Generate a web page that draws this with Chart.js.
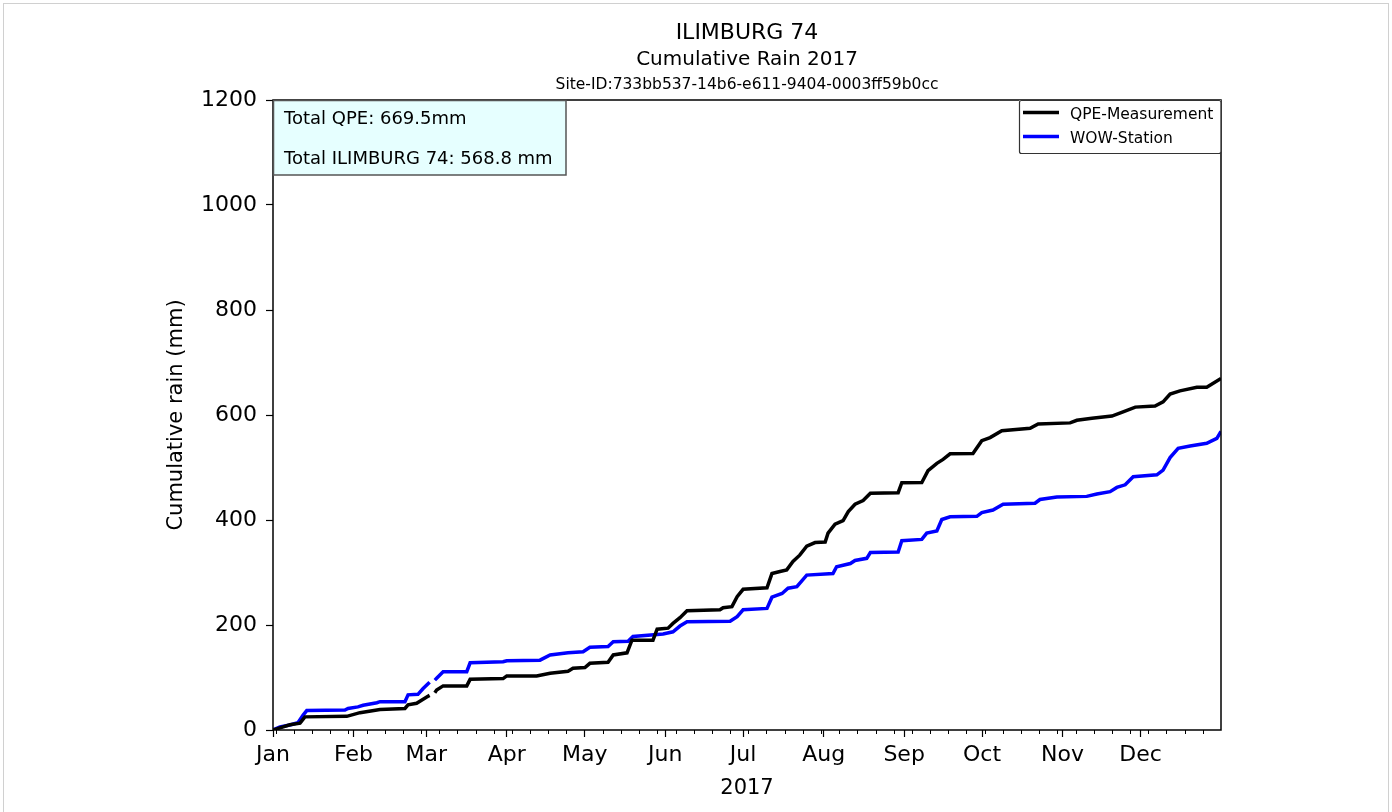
<!DOCTYPE html>
<html>
<head>
<meta charset="utf-8">
<script src="https://cdn.jsdelivr.net/npm/chart.js@4/dist/chart.umd.min.js"></script>
<style>
  html, body { margin: 0; padding: 0; background: #fff; }
  #grafico { display: block; }
</style>
</head>
<body>
<canvas id="grafico" width="1392" height="812"></canvas>
<script>
// Dias desde 1 de janeiro de 2017 (eixo x) e chuva acumulada (mm)
const qpeDays = [0, 6.5, 10.4, 12.3, 28.4, 33.5, 41.2, 50.8, 52, 55.3, 59.2, 60.3, 61, 62.3, 63, 65.5, 74.6, 75.9,
  88.6, 90, 101.5, 106.7, 113.6, 115.5, 120.1, 122, 129, 131, 136.3, 138.2, 146.3, 147.9, 152.1, 154, 156.7, 159.4,
  172.1, 173.3, 176.7, 178.7, 181, 190.2, 192.1, 195.2, 197.8, 200.2, 202.8, 205.5, 208.7, 212.6, 213.7, 216.4,
  219.5, 221.5, 224.1, 227.2, 230, 240.7, 242.1, 249.8, 252.2, 255.6, 258, 260.7, 269.5, 272.9, 276.1, 280.6,
  291.5, 294.6, 306.9, 309.5, 315.3, 323, 327.3, 332, 339.6, 342.7, 345.4, 349.2, 355.7, 359.5, 365];
const qpeRain = [0, 10, 13, 25, 26, 33, 39, 41, 48, 51, 63, 66, null, 71, 76, 84, 84, 96.5,
  98, 103, 103, 108, 112, 117.5, 119, 127, 129, 143, 147, 171, 171, 192, 194, 203, 214, 227,
  229, 233, 235, 254, 268, 271, 298, 302, 305, 321, 333, 350, 357, 358, 375, 392,
  399, 416, 430, 437, 451, 452, 471, 471.5, 494, 508, 515.5, 526, 526.5, 551, 557, 570,
  574.6, 583, 585, 590, 593.6, 598, 606, 615, 617, 625, 640, 646, 652.7, 653, 669.5];

const wowDays = [0, 2.7, 6.5, 9.6, 11.6, 13, 27.7, 28.9, 32.7, 34.7, 40, 41.2, 50.8, 52, 55.8, 57.8, 60.3, 61, 62.3, 63,
  65.5, 74.6, 75.9, 88.6, 90, 102.8, 106.7, 113.6, 119.4, 122, 129, 131, 136.7, 138.6, 150.2, 154, 156.7, 159.4,
  176, 178.7, 181, 190.2, 192.1, 196, 198.3, 201.7, 205.5, 215.6, 217, 222.3, 224.1, 228.6, 230, 240.7, 242.1,
  249.8, 251.7, 255.6, 257.5, 260.7, 271, 272.9, 277.2, 281.1, 293.4, 295.3, 301.8, 313.3, 317.2, 322.3, 324.9,
  328.1, 331.2, 340.3, 342.7, 345.4, 348.5, 353.1, 359.5, 363.4, 365];
const wowRain = [0, 6, 9.5, 14, 28.5, 37, 38, 41, 44, 47, 52, 54, 54, 67, 68, 79, 91, null, 95, 98.5,
  111, 111, 128, 130, 132, 133, 143, 147, 149, 157.5, 159, 168, 169, 178, 183, 187, 198, 206,
  207, 216, 229, 231.6, 253, 260, 270, 273, 295, 298, 311, 317, 323, 327, 338, 339, 360.6,
  363, 375, 379, 401, 406, 407, 414, 419, 430, 432, 439, 444, 445, 449.5, 454, 462,
  467, 482.5, 486, 495, 519, 536.5, 541, 546, 555.6, 568.8];

const monthStarts = [0, 31, 59, 90, 120, 151, 181, 212, 243, 273, 304, 334];
const monthLabels = ["Jan", "Feb", "Mar", "Apr", "May", "Jun", "Jul", "Aug", "Sep", "Oct", "Nov", "Dec"];
const yTicks = [0, 200, 400, 600, 800, 1000, 1200];

const totalQPE = 669.5;
const totalStation = 568.8;

const FONTE = "'DejaVu Sans', sans-serif";

function montarPontos(dias, valores) {
  return dias.map((d, i) => ({ x: d, y: valores[i] }));
}

// Segundas-feiras de 2017 (ticks menores)
const segundas = [];
for (let d = 1; d < 365; d += 7) segundas.push(d);

const enfeites = {
  id: 'enfeites',
  afterDraw(chart) {
    const ctx = chart.ctx;
    const a = chart.chartArea;
    const x = chart.scales.x;
    ctx.save();

    // borda clara da figura
    ctx.strokeStyle = '#d0d0d0';
    ctx.lineWidth = 1;
    ctx.strokeRect(3.5, 3.5, 1385, 812);

    // ticks menores no eixo x
    ctx.strokeStyle = '#000';
    ctx.lineWidth = 1;
    segundas.forEach(d => {
      if (monthStarts.includes(d)) return;
      const px = Math.round(x.getPixelForValue(d)) + 0.5;
      ctx.beginPath();
      ctx.moveTo(px, a.bottom);
      ctx.lineTo(px, a.bottom + 4);
      ctx.stroke();
    });

    // moldura
    ctx.lineWidth = 1.5;
    ctx.strokeRect(a.left, a.top, a.right - a.left, a.bottom - a.top);

    // títulos
    ctx.fillStyle = '#000';
    ctx.textAlign = 'center';
    ctx.textBaseline = 'alphabetic';
    const cx = (a.left + a.right) / 2;
    ctx.font = "22px " + FONTE;
    ctx.fillText("ILIMBURG 74", cx, 38.5);
    ctx.font = "20px " + FONTE;
    ctx.fillText("Cumulative Rain 2017", cx, 65);
    ctx.font = "15.5px " + FONTE;
    ctx.fillText("Site-ID:733bb537-14b6-e611-9404-0003ff59b0cc", cx, 88.5);

    // títulos dos eixos
    ctx.font = "21px " + FONTE;
    ctx.fillText("2017", cx, 794);
    ctx.save();
    ctx.translate(177, (a.top + a.bottom) / 2);
    ctx.rotate(-Math.PI / 2);
    ctx.textBaseline = 'middle';
    ctx.fillText("Cumulative rain (mm)", 0, 0);
    ctx.restore();

    // caixa de totais
    ctx.fillStyle = 'rgba(224,255,255,0.8)';
    ctx.fillRect(a.left, a.top, 293, 75);
    ctx.strokeStyle = '#555';
    ctx.lineWidth = 1.5;
    ctx.strokeRect(a.left + 0.5, a.top + 0.5, 292.5, 74.5);
    ctx.fillStyle = '#000';
    ctx.textAlign = 'left';
    ctx.font = "18px " + FONTE;
    ctx.fillText("Total QPE: " + totalQPE.toFixed(1) + "mm", 284, 123.5);
    ctx.fillText("Total ILIMBURG 74: " + totalStation.toFixed(1) + " mm", 284, 163.5);

    // legenda
    const lx = 1019.5, ly = a.top, lw = a.right - lx, lh = 53;
    ctx.fillStyle = 'rgba(255,255,255,0.85)';
    ctx.fillRect(lx, ly, lw, lh);
    ctx.strokeStyle = '#333';
    ctx.lineWidth = 1.2;
    ctx.beginPath();
    ctx.roundRect(lx, ly + 0.5, lw, lh, 2);
    ctx.stroke();
    ctx.font = "15.5px " + FONTE;
    chart.data.datasets.forEach((ds, i) => {
      const yy = 112.5 + i * 24;
      ctx.strokeStyle = ds.borderColor;
      ctx.lineWidth = 3.5;
      ctx.beginPath();
      ctx.moveTo(1023, yy);
      ctx.lineTo(1059, yy);
      ctx.stroke();
      ctx.fillStyle = '#000';
      ctx.fillText(ds.label, 1070, yy + 6);
    });

    ctx.restore();
  }
};

new Chart(document.getElementById("grafico").getContext("2d"), {
  type: "line",
  data: {
    datasets: [{
      label: "QPE-Measurement",
      data: montarPontos(qpeDays, qpeRain),
      borderColor: "#000000",
      borderWidth: 3.5,
      pointRadius: 0,
      tension: 0,
      spanGaps: false,
      fill: false
    }, {
      label: "WOW-Station",
      data: montarPontos(wowDays, wowRain),
      borderColor: "#0000ff",
      borderWidth: 3.5,
      pointRadius: 0,
      tension: 0,
      spanGaps: false,
      fill: false
    }]
  },
  options: {
    responsive: false,
    devicePixelRatio: 1,
    animation: false,
    layout: { padding: { left: 0, top: 100, right: 171, bottom: 0 } },
    plugins: {
      legend: { display: false },
      title: { display: false },
      tooltip: { enabled: false }
    },
    scales: {
      x: {
        type: "linear",
        min: 0,
        max: 365,
        afterFit: s => { s.height = 82; },
        afterBuildTicks: s => { s.ticks = monthStarts.map(v => ({ value: v })); },
        border: { display: false },
        grid: { drawOnChartArea: false, drawTicks: true, tickLength: 7, tickColor: "#000", tickWidth: 1.2 },
        ticks: {
          autoSkip: false,
          maxRotation: 0,
          padding: 5,
          color: "#000",
          font: { family: FONTE, size: 22 },
          callback: (v, i) => monthLabels[i]
        }
      },
      y: {
        min: 0,
        max: 1200,
        afterFit: s => { s.width = 273; },
        afterBuildTicks: s => { s.ticks = yTicks.map(v => ({ value: v })); },
        border: { display: false },
        grid: { drawOnChartArea: false, drawTicks: true, tickLength: 7, tickColor: "#000", tickWidth: 1.2 },
        ticks: {
          padding: 9,
          color: "#000",
          font: { family: FONTE, size: 22 },
          callback: v => String(v)
        }
      }
    }
  },
  plugins: [enfeites]
});
</script>
</body>
</html>
